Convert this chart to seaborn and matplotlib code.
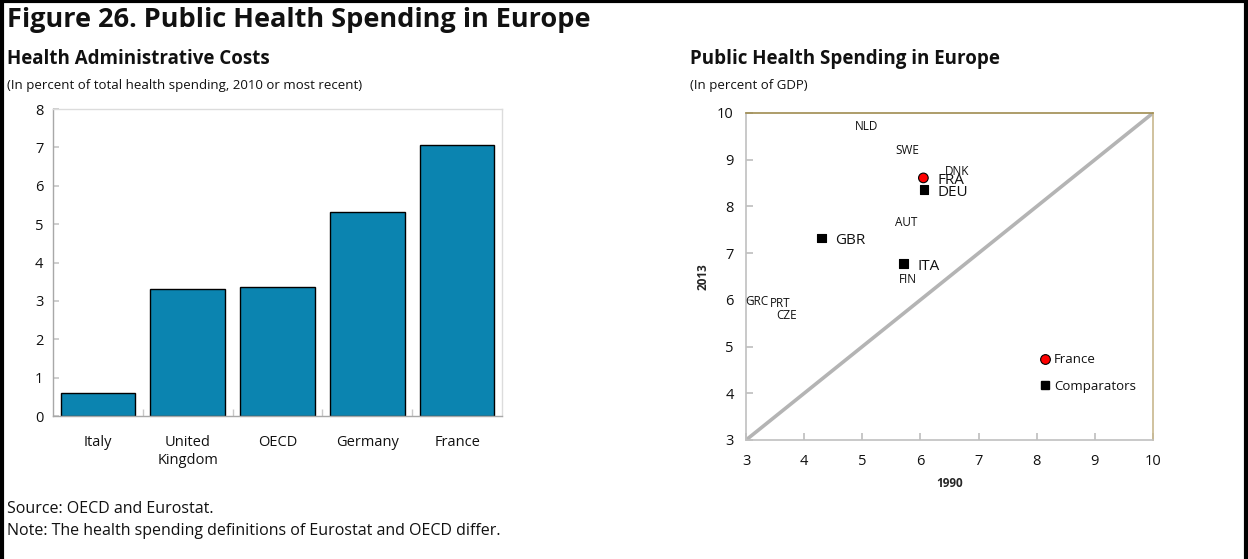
import matplotlib
matplotlib.use("Agg")
import matplotlib.pyplot as plt
from matplotlib.patches import Rectangle
from matplotlib.lines import Line2D
import numpy as np
import pandas as pd
import seaborn as sns

# ---- data ---------------------------------------------------------------
bar_categories = ["Italy", "United\nKingdom", "OECD", "Germany", "France"]
admin_costs = [0.59, 3.30, 3.35, 5.31, 7.06]

marked_codes = ["FRA", "DEU", "GBR", "ITA"]
marked_1990 = [6.05, 6.06, 4.30, 5.71]
marked_2013 = [8.61, 8.36, 7.32, 6.78]
marked_group = ["France", "Comparators", "Comparators", "Comparators"]

other_codes = ["NLD", "SWE", "DNK", "AUT", "FIN", "GRC", "PRT", "CZE"]
other_1990 = [5.07, 5.77, 6.63, 5.75, 5.79, 3.19, 3.59, 3.69]
other_2013 = [9.70, 9.20, 8.74, 7.66, 6.44, 5.96, 5.92, 5.67]

x_ticks = [3, 4, 5, 6, 7, 8, 9, 10]
y_ticks = [3, 4, 5, 6, 7, 8, 9, 10]
bar_ticks = [0, 1, 2, 3, 4, 5, 6, 7, 8]

# ---- style --------------------------------------------------------------
sns.set_theme(style="white")
plt.rcParams["font.family"] = ["Open Sans", "DejaVu Sans"]
plt.rcParams["text.color"] = "#111111"

BAR_COLOR = "#0b84b0"
TEXT = "#111111"

fig = plt.figure(figsize=(12.48, 5.59), dpi=100)

# outer frame
fig.patches.append(Rectangle((0.0015, -0.05), 0.997, 1.048, transform=fig.transFigure,
                             fill=False, edgecolor="black", linewidth=3))

# headings
fig.text(0.0056, 0.952, "Figure 26. Public Health Spending in Europe",
         fontsize=19.5, fontweight="bold", va="baseline", ha="left")
fig.text(0.0056, 0.885, "Health Administrative Costs",
         fontsize=13.5, fontweight="bold", va="baseline", ha="left")
fig.text(0.0056, 0.840, "(In percent of total health spending, 2010 or most recent)",
         fontsize=9.5, va="baseline", ha="left")
fig.text(0.5529, 0.885, "Public Health Spending in Europe",
         fontsize=13.5, fontweight="bold", va="baseline", ha="left")
fig.text(0.5529, 0.840, "(In percent of GDP)",
         fontsize=9.5, va="baseline", ha="left")
fig.text(0.0056, 0.083, "Source: OECD and Eurostat.",
         fontsize=11.5, va="baseline", ha="left")
fig.text(0.0056, 0.043, "Note: The health spending definitions of Eurostat and OECD differ.",
         fontsize=11.5, va="baseline", ha="left")

# ---- left: bar chart ----------------------------------------------------
ax1 = fig.add_axes([0.0425, 0.2558, 0.3598, 0.5492])
bar_df = pd.DataFrame({"category": bar_categories, "value": admin_costs})
sns.barplot(data=bar_df, x="category", y="value", color=BAR_COLOR,
            saturation=1, width=0.83, edgecolor="black", linewidth=1.0, ax=ax1)
ax1.set_xlim(-0.5, len(bar_categories) - 0.5)
ax1.set_ylim(0, 8)
ax1.set_yticks(bar_ticks)
ax1.set_xlabel("")
ax1.set_ylabel("")
for side in ["top", "right"]:
    ax1.spines[side].set_color("#dcdcdc")
for side in ["left", "bottom"]:
    ax1.spines[side].set_color("#a8a8a8")
for s in ax1.spines.values():
    s.set_linewidth(1.0)
ax1.tick_params(axis="y", direction="in", length=4, color="#c8c8c8",
                labelsize=10.5, labelcolor=TEXT, pad=7, left=True)
ax1.tick_params(axis="x", which="major", length=0, labelsize=10.5,
                labelcolor=TEXT, pad=14)
ax1.set_xticks(np.arange(0.5, len(bar_categories) - 1, 1.0), minor=True)
ax1.tick_params(axis="x", which="minor", direction="in", length=5,
                color="#c8c8c8", bottom=True)

# ---- right: scatter -----------------------------------------------------
ax2 = fig.add_axes([0.5978, 0.2129, 0.3261, 0.5850])
ax2.plot([3, 10], [3, 10], color="#b4b4b4", linewidth=2.6, zorder=1)

sc_df = pd.DataFrame({"code": marked_codes, "x": marked_1990,
                      "y": marked_2013, "group": marked_group})
sns.scatterplot(data=sc_df, x="x", y="y", hue="group", style="group",
                size="group", sizes={"France": 48, "Comparators": 36},
                hue_order=["France", "Comparators"],
                palette={"France": "#ff0000", "Comparators": "#000000"},
                markers={"France": "o", "Comparators": "s"},
                edgecolor="black", linewidth=0.8, legend=False,
                ax=ax2, zorder=3)

for code, x, y in zip(marked_codes, marked_1990, marked_2013):
    ax2.annotate(code, (x, y), xytext=(10, -2), textcoords="offset points",
                 ha="left", va="center", fontsize=11, color=TEXT)

for code, x, y in zip(other_codes, other_1990, other_2013):
    ax2.text(x, y, code, ha="center", va="center", fontsize=8.5, color=TEXT)

ax2.set_xlim(3, 10)
ax2.set_ylim(3, 10)
ax2.set_xticks(x_ticks)
ax2.set_yticks(y_ticks)
ax2.set_xlabel("1990", fontsize=8.5, fontweight="bold", labelpad=6)
ax2.set_ylabel("2013", fontsize=8.5, fontweight="bold", labelpad=5)
ax2.spines["top"].set_color("#a08c50")
ax2.spines["right"].set_color("#c8b88e")
ax2.spines["left"].set_color("#c0c0c0")
ax2.spines["bottom"].set_color("#c0c0c0")
for s in ax2.spines.values():
    s.set_linewidth(1.2)
ax2.tick_params(axis="both", direction="in", length=5, color="#c0c0c0",
                labelsize=10.5, labelcolor=TEXT, bottom=True, left=True)
ax2.tick_params(axis="x", pad=10)
ax2.tick_params(axis="y", pad=9)

handles = [
    Line2D([], [], marker="o", linestyle="", markerfacecolor="#ff0000",
           markeredgecolor="black", markersize=7, markeredgewidth=0.8),
    Line2D([], [], marker="s", linestyle="", markerfacecolor="#000000",
           markeredgecolor="black", markersize=6),
]
ax2.legend(handles, ["France", "Comparators"], loc="upper left",
           bbox_to_anchor=(0.72, 0.265), frameon=False, fontsize=9.5,
           handlelength=0.9, handletextpad=0.25, labelspacing=1.0,
           borderpad=0, borderaxespad=0)

fig.savefig("out.png", dpi=100)
